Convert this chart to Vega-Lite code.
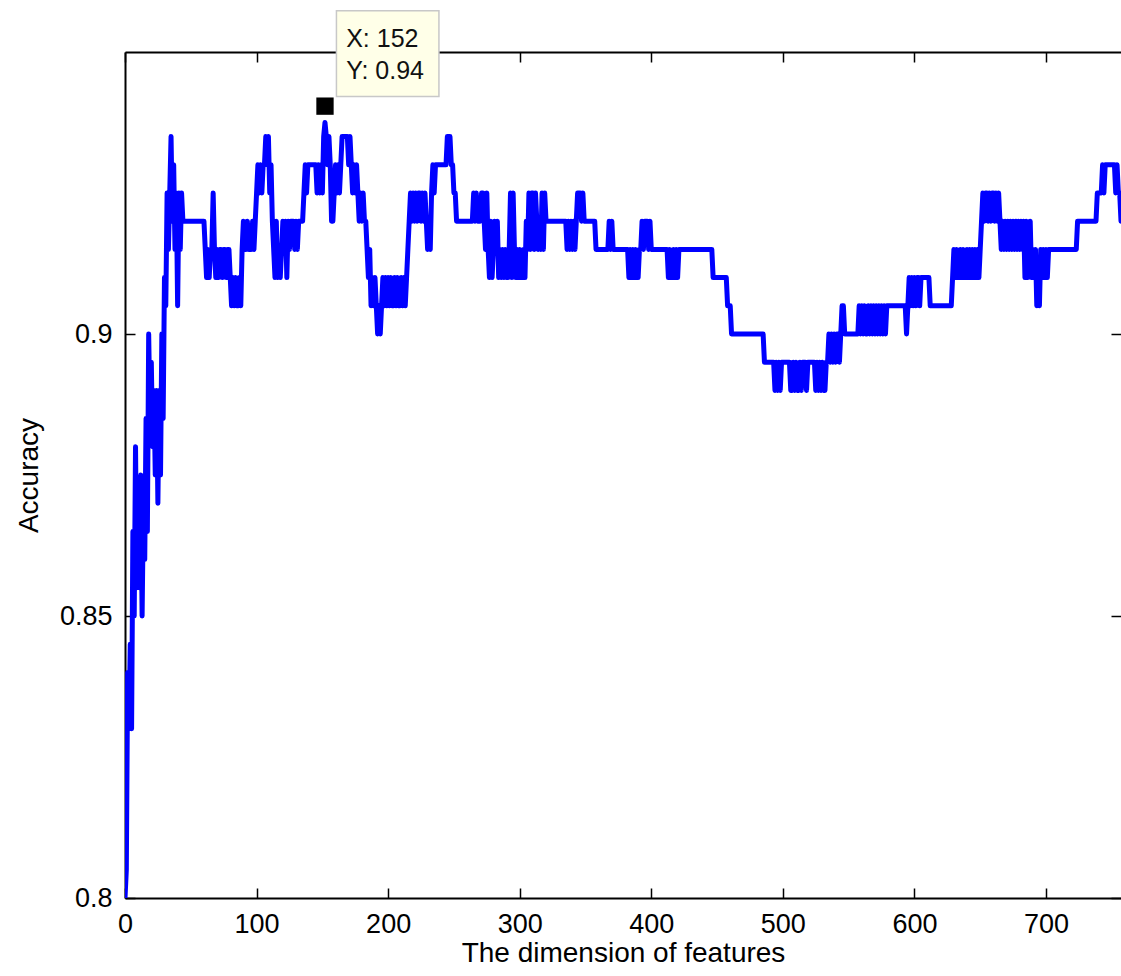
{
  "$schema": "https://vega.github.io/schema/vega-lite/v6.json",
  "width": 996,
  "height": 846,
  "autosize": {"type": "none"},
  "padding": {"left": 125, "top": 52, "right": 0, "bottom": 78},
  "background": "white",
  "config": {
    "view": {"stroke": null},
    "axis": {
      "grid": false,
      "domainColor": "black",
      "tickColor": "black",
      "labelColor": "black",
      "titleColor": "black",
      "labelFont": "Liberation Sans",
      "titleFont": "Liberation Sans",
      "labelFontWeight": "normal",
      "titleFontWeight": "normal",
      "domainWidth": 2,
      "tickWidth": 1.5
    }
  },
  "datasets": {
    "acc": [
      {"x":0,"y":0.8},{"x":1,"y":0.805},{"x":2,"y":0.84},{"x":3,"y":0.83},{"x":4,"y":0.845},{"x":5,"y":0.83},{"x":6,"y":0.865},{"x":7,"y":0.85},{"x":8,"y":0.88},{"x":9,"y":0.855},
      {"x":10,"y":0.87},{"x":11,"y":0.855},{"x":12,"y":0.875},{"x":13,"y":0.85},{"x":14,"y":0.87},{"x":15,"y":0.86},{"x":16,"y":0.885},{"x":17,"y":0.865},{"x":18,"y":0.9},{"x":19,"y":0.885},
      {"x":20,"y":0.895},{"x":21,"y":0.88},{"x":22,"y":0.89},{"x":23,"y":0.875},{"x":24,"y":0.89},{"x":25,"y":0.87},{"x":26,"y":0.89},{"x":27,"y":0.875},{"x":28,"y":0.9},{"x":29,"y":0.885},
      {"x":30,"y":0.91},{"x":31,"y":0.905},{"x":32,"y":0.925},{"x":33,"y":0.915},{"x":34,"y":0.925},{"x":35,"y":0.935},{"x":36,"y":0.92},{"x":37,"y":0.93},{"x":38,"y":0.915},{"x":39,"y":0.925},
      {"x":40,"y":0.905},{"x":41,"y":0.925},{"x":42,"y":0.915},{"x":43,"y":0.925},{"x":44,"y":0.92},{"x":45,"y":0.92},{"x":60,"y":0.92},{"x":61,"y":0.915},{"x":62,"y":0.91},{"x":63,"y":0.915},
      {"x":64,"y":0.91},{"x":65,"y":0.915},{"x":66,"y":0.915},{"x":67,"y":0.925},{"x":68,"y":0.915},{"x":69,"y":0.91},{"x":70,"y":0.915},{"x":71,"y":0.91},{"x":72,"y":0.915},{"x":73,"y":0.915},
      {"x":74,"y":0.91},{"x":75,"y":0.915},{"x":76,"y":0.915},{"x":77,"y":0.91},{"x":78,"y":0.915},{"x":79,"y":0.915},{"x":80,"y":0.91},{"x":81,"y":0.905},{"x":82,"y":0.91},{"x":83,"y":0.905},
      {"x":84,"y":0.91},{"x":85,"y":0.905},{"x":86,"y":0.905},{"x":87,"y":0.91},{"x":88,"y":0.905},{"x":89,"y":0.915},{"x":90,"y":0.92},{"x":91,"y":0.915},{"x":92,"y":0.915},{"x":93,"y":0.92},
      {"x":94,"y":0.915},{"x":95,"y":0.915},{"x":96,"y":0.915},{"x":97,"y":0.92},{"x":98,"y":0.915},{"x":99,"y":0.92},{"x":100,"y":0.925},{"x":101,"y":0.93},{"x":102,"y":0.925},{"x":103,"y":0.93},
      {"x":104,"y":0.925},{"x":105,"y":0.93},{"x":106,"y":0.93},{"x":107,"y":0.935},{"x":108,"y":0.93},{"x":109,"y":0.935},{"x":110,"y":0.925},{"x":111,"y":0.93},{"x":112,"y":0.92},{"x":113,"y":0.915},
      {"x":114,"y":0.91},{"x":115,"y":0.92},{"x":116,"y":0.91},{"x":117,"y":0.915},{"x":118,"y":0.91},{"x":119,"y":0.915},{"x":120,"y":0.92},{"x":121,"y":0.915},{"x":122,"y":0.92},{"x":123,"y":0.91},
      {"x":124,"y":0.92},{"x":125,"y":0.915},{"x":126,"y":0.92},{"x":127,"y":0.92},{"x":128,"y":0.92},{"x":129,"y":0.915},{"x":130,"y":0.92},{"x":131,"y":0.915},{"x":132,"y":0.92},{"x":135,"y":0.92},
      {"x":136,"y":0.925},{"x":137,"y":0.93},{"x":138,"y":0.925},{"x":139,"y":0.93},{"x":145,"y":0.93},{"x":146,"y":0.925},{"x":147,"y":0.93},{"x":148,"y":0.925},{"x":149,"y":0.93},{"x":150,"y":0.925},
      {"x":151,"y":0.935},{"x":152,"y":0.9375},{"x":153,"y":0.935},{"x":154,"y":0.93},{"x":155,"y":0.935},{"x":156,"y":0.93},{"x":157,"y":0.92},{"x":158,"y":0.92},{"x":159,"y":0.925},{"x":160,"y":0.93},
      {"x":161,"y":0.925},{"x":162,"y":0.93},{"x":163,"y":0.925},{"x":164,"y":0.93},{"x":165,"y":0.935},{"x":169,"y":0.935},{"x":170,"y":0.93},{"x":171,"y":0.935},{"x":172,"y":0.93},{"x":173,"y":0.925},
      {"x":174,"y":0.93},{"x":175,"y":0.925},{"x":176,"y":0.93},{"x":177,"y":0.925},{"x":178,"y":0.92},{"x":179,"y":0.925},{"x":180,"y":0.92},{"x":181,"y":0.925},{"x":182,"y":0.92},{"x":183,"y":0.92},
      {"x":184,"y":0.915},{"x":185,"y":0.91},{"x":186,"y":0.915},{"x":187,"y":0.905},{"x":188,"y":0.91},{"x":189,"y":0.905},{"x":190,"y":0.91},{"x":191,"y":0.905},{"x":192,"y":0.9},{"x":193,"y":0.905},
      {"x":194,"y":0.9},{"x":195,"y":0.905},{"x":196,"y":0.91},{"x":197,"y":0.905},{"x":198,"y":0.91},{"x":199,"y":0.905},{"x":200,"y":0.91},{"x":201,"y":0.905},{"x":202,"y":0.91},{"x":203,"y":0.905},
      {"x":204,"y":0.905},{"x":205,"y":0.91},{"x":206,"y":0.905},{"x":207,"y":0.91},{"x":208,"y":0.905},{"x":209,"y":0.905},{"x":210,"y":0.91},{"x":211,"y":0.905},{"x":212,"y":0.91},{"x":213,"y":0.905},
      {"x":214,"y":0.91},{"x":215,"y":0.915},{"x":216,"y":0.92},{"x":217,"y":0.925},{"x":218,"y":0.92},{"x":219,"y":0.925},{"x":220,"y":0.92},{"x":221,"y":0.925},{"x":222,"y":0.92},{"x":223,"y":0.925},
      {"x":224,"y":0.925},{"x":225,"y":0.92},{"x":226,"y":0.925},{"x":227,"y":0.92},{"x":228,"y":0.925},{"x":229,"y":0.92},{"x":230,"y":0.915},{"x":231,"y":0.92},{"x":232,"y":0.915},{"x":233,"y":0.925},
      {"x":234,"y":0.93},{"x":235,"y":0.925},{"x":236,"y":0.93},{"x":244,"y":0.93},{"x":245,"y":0.935},{"x":247,"y":0.935},{"x":248,"y":0.93},{"x":249,"y":0.93},{"x":250,"y":0.925},{"x":251,"y":0.925},
      {"x":252,"y":0.92},{"x":264,"y":0.92},{"x":265,"y":0.925},{"x":266,"y":0.92},{"x":267,"y":0.925},{"x":268,"y":0.92},{"x":270,"y":0.92},{"x":271,"y":0.925},{"x":272,"y":0.925},{"x":273,"y":0.92},
      {"x":274,"y":0.915},{"x":275,"y":0.925},{"x":276,"y":0.915},{"x":277,"y":0.91},{"x":278,"y":0.92},{"x":279,"y":0.91},{"x":280,"y":0.915},{"x":281,"y":0.92},{"x":282,"y":0.915},{"x":283,"y":0.92},
      {"x":284,"y":0.91},{"x":285,"y":0.915},{"x":286,"y":0.91},{"x":287,"y":0.915},{"x":288,"y":0.91},{"x":289,"y":0.915},{"x":290,"y":0.91},{"x":291,"y":0.91},{"x":292,"y":0.915},{"x":293,"y":0.925},
      {"x":294,"y":0.91},{"x":295,"y":0.925},{"x":296,"y":0.915},{"x":297,"y":0.91},{"x":298,"y":0.915},{"x":299,"y":0.91},{"x":300,"y":0.915},{"x":301,"y":0.91},{"x":302,"y":0.91},{"x":303,"y":0.915},
      {"x":304,"y":0.91},{"x":305,"y":0.92},{"x":306,"y":0.915},{"x":307,"y":0.925},{"x":308,"y":0.915},{"x":309,"y":0.925},{"x":310,"y":0.925},{"x":311,"y":0.915},{"x":312,"y":0.925},{"x":313,"y":0.92},
      {"x":314,"y":0.915},{"x":315,"y":0.92},{"x":316,"y":0.915},{"x":317,"y":0.925},{"x":318,"y":0.915},{"x":319,"y":0.925},{"x":320,"y":0.92},{"x":335,"y":0.92},{"x":336,"y":0.915},{"x":337,"y":0.92},
      {"x":338,"y":0.915},{"x":339,"y":0.92},{"x":340,"y":0.915},{"x":341,"y":0.92},{"x":342,"y":0.915},{"x":343,"y":0.92},{"x":344,"y":0.925},{"x":346,"y":0.925},{"x":347,"y":0.92},{"x":348,"y":0.925},
      {"x":349,"y":0.92},{"x":357,"y":0.92},{"x":358,"y":0.915},{"x":367,"y":0.915},{"x":368,"y":0.92},{"x":369,"y":0.915},{"x":370,"y":0.92},{"x":371,"y":0.915},{"x":382,"y":0.915},{"x":383,"y":0.91},
      {"x":384,"y":0.915},{"x":385,"y":0.91},{"x":386,"y":0.915},{"x":387,"y":0.91},{"x":388,"y":0.915},{"x":389,"y":0.91},{"x":390,"y":0.91},{"x":391,"y":0.915},{"x":392,"y":0.915},{"x":393,"y":0.92},
      {"x":394,"y":0.915},{"x":395,"y":0.92},{"x":397,"y":0.92},{"x":398,"y":0.915},{"x":399,"y":0.92},{"x":400,"y":0.915},{"x":412,"y":0.915},{"x":413,"y":0.91},{"x":414,"y":0.915},{"x":415,"y":0.91},
      {"x":416,"y":0.91},{"x":417,"y":0.915},{"x":418,"y":0.91},{"x":419,"y":0.915},{"x":420,"y":0.91},{"x":421,"y":0.915},{"x":446,"y":0.915},{"x":447,"y":0.91},{"x":457,"y":0.91},{"x":458,"y":0.905},
      {"x":460,"y":0.905},{"x":461,"y":0.9},{"x":485,"y":0.9},{"x":486,"y":0.895},{"x":493,"y":0.895},{"x":494,"y":0.89},{"x":495,"y":0.895},{"x":496,"y":0.89},{"x":497,"y":0.895},{"x":498,"y":0.89},
      {"x":499,"y":0.895},{"x":505,"y":0.895},{"x":506,"y":0.89},{"x":507,"y":0.89},{"x":508,"y":0.895},{"x":509,"y":0.89},{"x":510,"y":0.895},{"x":511,"y":0.89},{"x":512,"y":0.89},{"x":513,"y":0.895},
      {"x":514,"y":0.89},{"x":515,"y":0.895},{"x":517,"y":0.895},{"x":518,"y":0.89},{"x":519,"y":0.895},{"x":524,"y":0.895},{"x":525,"y":0.89},{"x":526,"y":0.895},{"x":527,"y":0.89},{"x":528,"y":0.895},
      {"x":529,"y":0.89},{"x":530,"y":0.895},{"x":531,"y":0.89},{"x":532,"y":0.89},{"x":533,"y":0.895},{"x":534,"y":0.895},{"x":535,"y":0.9},{"x":536,"y":0.895},{"x":537,"y":0.9},{"x":538,"y":0.895},
      {"x":539,"y":0.9},{"x":540,"y":0.895},{"x":541,"y":0.9},{"x":542,"y":0.9},{"x":543,"y":0.895},{"x":544,"y":0.9},{"x":545,"y":0.905},{"x":546,"y":0.905},{"x":547,"y":0.9},{"x":557,"y":0.9},
      {"x":558,"y":0.905},{"x":559,"y":0.9},{"x":560,"y":0.905},{"x":561,"y":0.9},{"x":562,"y":0.905},{"x":563,"y":0.9},{"x":564,"y":0.9},{"x":565,"y":0.905},{"x":566,"y":0.9},{"x":567,"y":0.905},
      {"x":568,"y":0.9},{"x":569,"y":0.905},{"x":570,"y":0.9},{"x":571,"y":0.905},{"x":572,"y":0.9},{"x":573,"y":0.905},{"x":574,"y":0.9},{"x":575,"y":0.905},{"x":576,"y":0.9},{"x":577,"y":0.905},
      {"x":578,"y":0.9},{"x":579,"y":0.905},{"x":593,"y":0.905},{"x":594,"y":0.9},{"x":595,"y":0.905},{"x":596,"y":0.91},{"x":597,"y":0.905},{"x":598,"y":0.91},{"x":599,"y":0.905},{"x":600,"y":0.91},
      {"x":601,"y":0.905},{"x":602,"y":0.91},{"x":603,"y":0.91},{"x":604,"y":0.905},{"x":605,"y":0.91},{"x":611,"y":0.91},{"x":612,"y":0.905},{"x":628,"y":0.905},{"x":629,"y":0.91},{"x":630,"y":0.915},
      {"x":631,"y":0.91},{"x":632,"y":0.915},{"x":633,"y":0.91},{"x":634,"y":0.91},{"x":635,"y":0.915},{"x":636,"y":0.91},{"x":637,"y":0.915},{"x":638,"y":0.91},{"x":639,"y":0.91},{"x":640,"y":0.915},
      {"x":641,"y":0.91},{"x":642,"y":0.915},{"x":643,"y":0.91},{"x":644,"y":0.915},{"x":645,"y":0.91},{"x":646,"y":0.915},{"x":647,"y":0.91},{"x":648,"y":0.915},{"x":649,"y":0.91},{"x":650,"y":0.915},
      {"x":651,"y":0.92},{"x":652,"y":0.925},{"x":653,"y":0.92},{"x":654,"y":0.925},{"x":655,"y":0.925},{"x":656,"y":0.92},{"x":657,"y":0.925},{"x":658,"y":0.92},{"x":659,"y":0.925},{"x":660,"y":0.925},
      {"x":661,"y":0.92},{"x":662,"y":0.925},{"x":663,"y":0.92},{"x":664,"y":0.925},{"x":665,"y":0.92},{"x":666,"y":0.915},{"x":667,"y":0.92},{"x":668,"y":0.915},{"x":669,"y":0.92},{"x":670,"y":0.915},
      {"x":671,"y":0.92},{"x":672,"y":0.915},{"x":673,"y":0.92},{"x":674,"y":0.915},{"x":675,"y":0.92},{"x":676,"y":0.915},{"x":677,"y":0.92},{"x":678,"y":0.915},{"x":679,"y":0.92},{"x":680,"y":0.915},
      {"x":681,"y":0.92},{"x":682,"y":0.915},{"x":683,"y":0.92},{"x":684,"y":0.91},{"x":685,"y":0.92},{"x":686,"y":0.91},{"x":687,"y":0.915},{"x":688,"y":0.92},{"x":689,"y":0.91},{"x":690,"y":0.915},
      {"x":691,"y":0.91},{"x":692,"y":0.915},{"x":693,"y":0.905},{"x":694,"y":0.91},{"x":695,"y":0.905},{"x":696,"y":0.915},{"x":697,"y":0.91},{"x":698,"y":0.915},{"x":699,"y":0.91},{"x":700,"y":0.915},
      {"x":701,"y":0.91},{"x":702,"y":0.915},{"x":723,"y":0.915},{"x":724,"y":0.92},{"x":738,"y":0.92},{"x":739,"y":0.925},{"x":742,"y":0.925},{"x":743,"y":0.93},{"x":744,"y":0.925},{"x":745,"y":0.93},
      {"x":752,"y":0.93},{"x":753,"y":0.925},{"x":754,"y":0.93},{"x":755,"y":0.925},{"x":756,"y":0.925},{"x":757,"y":0.92},{"x":758,"y":0.925},{"x":760,"y":0.925}
    ],
    "tip": [{"x1": 160.7, "x2": 238.6, "y1": 0.9421, "y2": 0.9573}],
    "tiptext": [
      {"tx": 168.1, "ty": 0.9509, "label": "X: 152"},
      {"tx": 168.1, "ty": 0.9453, "label": "Y: 0.94"}
    ],
    "marker": [{"px": 152, "py": 0.9404}]
  },
  "layer": [
    {
      "data": {"name": "acc"},
      "mark": {"type": "line", "color": "#0000ff", "strokeWidth": 5, "strokeJoin": "round", "clip": true},
      "encoding": {
        "x": {
          "field": "x", "type": "quantitative",
          "scale": {"domain": [0, 757], "nice": false, "zero": false},
          "axis": {
            "orient": "bottom", "values": [0, 100, 200, 300, 400, 500, 600, 700], "format": "d",
            "tickSize": -10, "labelPadding": 23, "labelFontSize": 27, "labelFlush": false, "labelOverlap": false,
            "title": "The dimension of features", "titleFontSize": 28, "titlePadding": 2
          }
        },
        "y": {
          "field": "y", "type": "quantitative",
          "scale": {"domain": [0.8, 0.95], "nice": false, "zero": false},
          "axis": {
            "orient": "left", "values": [0.8, 0.85, 0.9], "format": "~g",
            "tickSize": -10, "labelPadding": 23, "labelFontSize": 27, "labelOverlap": false,
            "title": "Accuracy", "titleFontSize": 28, "titlePadding": 16
          }
        }
      }
    },
    {
      "data": {"name": "tip"},
      "mark": {"type": "rect", "fill": "#ffffe8", "stroke": "#c8c8c8", "strokeWidth": 1.5, "clip": false},
      "encoding": {
        "x": {
          "field": "x1", "type": "quantitative",
          "scale": {"domain": [0, 757], "nice": false, "zero": false},
          "axis": {"orient": "top", "values": [0, 100, 200, 300, 400, 500, 600, 700], "labels": false, "tickSize": -10, "title": null}
        },
        "x2": {"field": "x2"},
        "y": {
          "field": "y1", "type": "quantitative",
          "scale": {"domain": [0.8, 0.95], "nice": false, "zero": false},
          "axis": {"orient": "right", "values": [0.8, 0.85, 0.9], "labels": false, "tickSize": -10, "domain": false, "title": null}
        },
        "y2": {"field": "y2"}
      }
    },
    {
      "data": {"name": "tiptext"},
      "mark": {"type": "text", "align": "left", "baseline": "alphabetic", "font": "Liberation Sans", "fontSize": 25, "color": "#111111", "clip": false},
      "encoding": {
        "x": {"field": "tx", "type": "quantitative", "scale": {"domain": [0, 757], "nice": false, "zero": false}, "axis": null},
        "y": {"field": "ty", "type": "quantitative", "scale": {"domain": [0.8, 0.95], "nice": false, "zero": false}, "axis": null},
        "text": {"field": "label"}
      }
    },
    {
      "data": {"name": "marker"},
      "mark": {"type": "point", "shape": "square", "filled": true, "size": 300, "color": "black", "opacity": 1, "clip": false},
      "encoding": {
        "x": {"field": "px", "type": "quantitative", "scale": {"domain": [0, 757], "nice": false, "zero": false}, "axis": null},
        "y": {"field": "py", "type": "quantitative", "scale": {"domain": [0.8, 0.95], "nice": false, "zero": false}, "axis": null}
      }
    }
  ],
  "resolve": {"axis": {"x": "independent", "y": "independent"}}
}
